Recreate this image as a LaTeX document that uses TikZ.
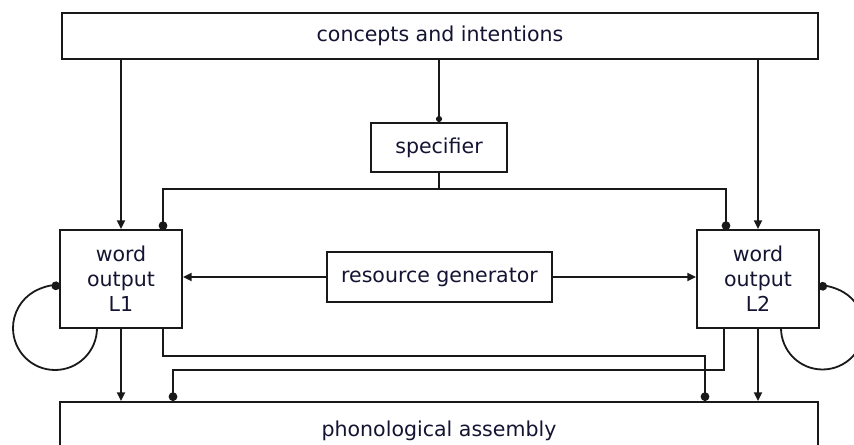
\documentclass[tikz,border=0pt]{standalone}
\usepackage{fontspec}
\setmainfont{DejaVu Sans}
\usetikzlibrary{arrows.meta}

\begin{document}
\begin{tikzpicture}[x=0.75pt,y=-0.75pt,
  box/.style={rectangle, draw=linedraw, line width=1.5pt, text=boxtext, align=center, inner sep=0pt,
    font=\fontsize{15.4}{18.75}\selectfont},
  plainline/.style={draw=linedraw, line width=1.35pt},
  arrowline/.style={plainline, -{Triangle[length=6.5pt,width=6pt]}},
  blobline/.style={plainline, -{Circle[length=6.5pt]}},
  smallblob/.style={plainline, -{Circle[length=4.5pt]}}]
%Define all colors here.
\definecolor{linedraw}{RGB}{25,25,25}
\definecolor{boxtext}{RGB}{20,20,50}

\useasboundingbox (0,0) rectangle (854,445);

\node(concepts) at (440,36) [box, minimum width=567pt, minimum height=34.5pt] {concepts and intentions};
\node(specifier) at (439,147.5) [box, minimum width=102pt, minimum height=36.75pt] {specifier};
\node(wordA) at (121,279) [box, minimum width=91.5pt, minimum height=73.5pt] {word\\output\\L1};
\node(wordB) at (758,279) [box, minimum width=91.5pt, minimum height=73.5pt] {word\\output\\L2};
\node(resgen) at (439.5,277) [box, minimum width=168.75pt, minimum height=37.5pt] {resource generator};
\node(phono) at (439,431) [box, minimum width=568.5pt, minimum height=43.5pt] {phonological assembly};

\coordinate (split) at (439,189);
\coordinate (aIn) at (163,230);
\coordinate (bIn) at (726,230);
\coordinate (aOut) at (163,328);
\coordinate (bOut) at (724,328);
\coordinate (aDrop) at (705,356);
\coordinate (bDrop) at (173,370);
\coordinate (aLoop) at (97,328);
\coordinate (bLoop) at (781,328);

\draw[arrowline] (concepts.south -| wordA) -- (wordA);
\draw[arrowline] (concepts.south -| wordB) -- (wordB);
\draw[smallblob] (concepts.south -| specifier) -- (specifier);
\draw[plainline] (specifier.south) -- (split);
\draw[blobline] (split) -| (aIn);
\draw[blobline] (split) -| (bIn);
\draw[arrowline] (resgen) -- (resgen -| wordA.east);
\draw[arrowline] (resgen) -- (resgen -| wordB.west);
\draw[arrowline] (wordA) -- (wordA |- phono.north);
\draw[arrowline] (wordB) -- (wordB |- phono.north);
\draw[blobline] (aOut) |- (aDrop) -- (aDrop |- phono.north);
\draw[blobline] (bOut) |- (bDrop) -- (bDrop |- phono.north);
\draw[blobline] (aLoop) arc[start angle=0, end angle=277, radius=42];
\draw[blobline] (bLoop) arc[start angle=180, end angle=-95.6, radius=41.5];
\end{tikzpicture}
\end{document}
